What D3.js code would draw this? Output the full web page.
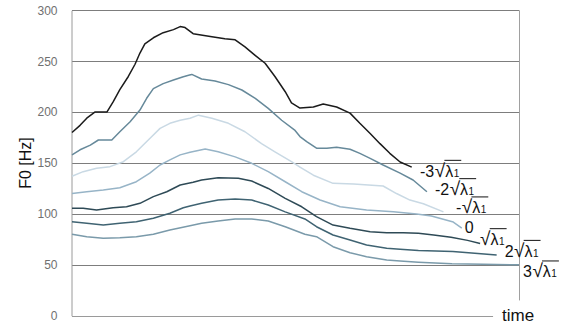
<!DOCTYPE html>
<html>
<head>
<meta charset="utf-8">
<script src="https://cdn.jsdelivr.net/npm/d3@7"></script>
<style>
  html, body { margin: 0; padding: 0; background: #fff; }
  svg { display: block; }
  text { font-family: "Liberation Sans", Arial, sans-serif; }
</style>
</head>
<body>
<svg id="chart" width="564" height="328"></svg>
<script>
// ---- data (time in normalized frames 0..100, F0 in Hz) ----
const yTicks = [0, 50, 100, 150, 200, 250, 300];
const seriesNames = ["-3", "-2", "-1", "0", "1", "2", "3"];

const m3_t = [0,1.8,3.3,5.1,7.8,9.2,10.7,12.6,14.1,15.2,16.3,18.2,20.4,22.7,24.2,25.3,27.1,31.3,34.2,36.5,38.7,40.9,43.2,45.4,47.7,49.1,51,54,56.2,59.2,62.2,64.4,66.7,68.9,71.1,73.4,76];
const m3_v = [180,187,194,200,200,210,222,235,247,258,267,273,278,281,284,283,277,274,272,271,264,256,248,235,220,209,204,205,208,205,199,189,179,169,159.5,151,146];

const m2_t = [0,1.8,4.1,5.9,8.9,10.7,13,15.2,16.7,18.2,20.4,22.7,24.9,26.3,26.8,29,32,35,38,41,43.9,46.9,49.9,51,52.5,54.7,57,59.2,62.2,64.4,66.7,69.6,73.4,76.3,79.4];
const m2_v = [158,163,167.6,172.6,172.6,180.7,190.6,202,213.6,223,228,231.5,234.8,236.4,237,232.5,230.5,227,221.7,213.5,203.7,192,182,176,171,164.5,164.5,165.4,163.5,159.5,154.6,148,140,133.3,121.8];

const m1_t = [0,2.5,5.5,8.5,11.5,14.4,17.4,19.7,21.9,24.2,26.4,28.3,31.3,35,38.7,42.4,45.4,49.1,51,54,58.4,63,69.6,72.6,75.6,78.6,83.1];
const m1_v = [137,141.5,144.8,146.4,151.3,161,174,184,189,192,194,197,194,189,180.7,169,161,151.3,146,138,130,129.4,127.4,120,113.6,110,102];

const z_t = [0,3.3,7,10.7,14.4,17.4,19.7,21.9,24.2,26.4,29.8,32.7,36.5,40.2,43.9,47.7,51.4,55.5,60,65.9,71.9,77.1,80.4,85.3,87.2];
const z_v = [120,121.8,123.5,125.7,131.6,140,148,153,158,160.5,163.7,161,156,149.7,141.5,131.6,121.8,113.6,107,103.8,102,100,98,92,86];

const p1_t = [0,2.5,5.5,9.2,12.2,15.2,18.2,21.2,24.2,27.1,29,32.7,37.2,40.2,43.9,47.7,51.4,54.7,58.4,62.2,66.7,70.4,74.1,77.5,80.9,84.8,88.5,91.3];
const p1_v = [105.5,105.5,103.8,106,107,110.4,117,121.8,128.4,131,133.3,135.6,135,132.3,125,115.3,107,97.3,89,85.8,82.5,81.5,81.5,81,79.3,77,74,71];

const p2_t = [0,3.3,7,10.7,14.4,18.2,21.9,24.9,26.4,29,32.7,36.5,40.2,43.9,47.7,52.1,54.7,58.4,62.2,65.9,70.4,73.4,77.5,85.2,95];
const p2_v = [92.3,90.8,89,90.8,92.3,95.7,100.6,106,107.8,110.4,113.6,114.6,113.6,108.7,102,95,87.4,79.3,74.4,69.4,66.2,65.2,64,63,59.6];

const p3_t = [0,3.3,7,10.7,14.4,18.2,21.9,26.4,29,32.7,36.5,40.2,43.9,47.7,52.1,54.7,58.4,62.2,65.9,70.4,73.4,77.5,85,92,100];
const p3_v = [80,77.6,76,76.6,77.6,80,84.2,88.4,90.8,93,95,95,93,87.4,80,77.6,67.8,61.9,58,54.7,53.7,52.5,51,50.5,50];

const seriesT = [m3_t, m2_t, m1_t, z_t, p1_t, p2_t, p3_t];
const seriesV = [m3_v, m2_v, m1_v, z_v, p1_v, p2_v, p3_v];

// label pieces: coefficient text, whether it has sqrt(lambda1)
const labelCoef = ["-3", "-2", "-", "0", "", "2", "3"];
const labelSqrt = [true, true, true, false, true, true, true];

// ---- styles ----
const colors = ["#1b1b1b", "#66899a", "#c9d9e4", "#97b4c7", "#2e4a56", "#3f6372", "#7a9aaa"];
const labelOffsets = [[8.3, 9.6], [8, 3.3], [12.5, 1.4], [3, 5.2], [-0.5, 1.6], [8, 1.7], [4, 12.5]];
const FS = 16, SQ_FS = 19;

const svg = d3.select("#chart");
const W = 564, H = 328;
const x = d3.scaleLinear().domain([0, 100]).range([72, 519]);
const y = d3.scaleLinear().domain([0, 300]).range([315.7, 10.3]);

svg.append("rect").attr("x", 0).attr("y", 0).attr("width", W).attr("height", H).attr("fill", "#ffffff");

// grid lines (50..250) + top border at 300
svg.append("g").selectAll("line")
  .data(yTicks.filter(d => d > 0))
  .join("line")
  .attr("x1", x(0)).attr("x2", x(100))
  .attr("y1", d => Math.round(y(d)) + 0.5).attr("y2", d => Math.round(y(d)) + 0.5)
  .attr("stroke", "#7d7d7d").attr("stroke-width", 1);

// right border
svg.append("line")
  .attr("x1", Math.round(x(100)) + 0.5).attr("x2", Math.round(x(100)) + 0.5)
  .attr("y1", y(300)).attr("y2", y(15))
  .attr("stroke", "#a0a0a0").attr("stroke-width", 1);

// y axis
const yAxis = d3.axisLeft(y).tickValues(yTicks).tickSize(0).tickPadding(14);
const gy = svg.append("g").attr("transform", "translate(" + (x(0) - 0.5) + ",0)").call(yAxis);
gy.select(".domain").attr("stroke", "#9a9a9a");
gy.selectAll("text")
  .attr("fill", "#707070")
  .style("font-size", "12px")
  .style("font-family", '"Liberation Sans", Arial, sans-serif');

// x axis line (no ticks)
const xAxisEnd = 94.2;
svg.append("line")
  .attr("x1", x(0)).attr("x2", x(xAxisEnd))
  .attr("y1", Math.round(y(0)) + 0.5).attr("y2", Math.round(y(0)) + 0.5)
  .attr("stroke", "#9a9a9a").attr("stroke-width", 1);

svg.append("text")
  .attr("x", x(xAxisEnd) + 9).attr("y", y(0) + 5)
  .attr("fill", "#111").style("font-size", "17px")
  .text("time");

svg.append("text")
  .attr("transform", "translate(31," + y(150) + ") rotate(-90)")
  .attr("text-anchor", "middle")
  .attr("fill", "#111").style("font-size", "16px")
  .text("F0 [Hz]");

// lines
const line = d3.line().x(d => x(d[0])).y(d => y(d[1])).curve(d3.curveLinear);
const series = seriesNames.map((name, i) => ({
  name, color: colors[i],
  pts: seriesT[i].map((t, j) => [t, seriesV[i][j]])
}));

svg.append("g").selectAll("path")
  .data(series)
  .join("path")
  .attr("d", d => line(d.pts))
  .attr("fill", "none")
  .attr("stroke", d => d.color)
  .attr("stroke-width", 1.5)
  .attr("stroke-linejoin", "round");

// labels (one text element per label, with tspans)
const lg = svg.append("g");
series.forEach((s, i) => {
  const last = s.pts[s.pts.length - 1];
  const lx = x(last[0]) + labelOffsets[i][0];
  const ly = y(last[1]) + labelOffsets[i][1];
  const t = lg.append("text").attr("x", lx).attr("y", ly)
    .attr("fill", "#111").style("font-size", FS + "px");
  if (labelCoef[i]) t.append("tspan").text(labelCoef[i]);
  if (labelSqrt[i]) {
    t.append("tspan").attr("dx", 0.5).style("font-size", SQ_FS + "px").text("\u221A");
    t.append("tspan").text("\u03BB");
    t.append("tspan").attr("dx", 0.5).style("font-size", "10px").text("1");
    const node = t.node();
    const n = node.getNumberOfChars();
    const sqIdx = labelCoef[i].length;
    const sqStart = node.getStartPositionOfChar(sqIdx);
    const sqEndX = sqStart.x + node.getSubStringLength(sqIdx, 1);
    const lastStart = node.getStartPositionOfChar(n - 1);
    const endX = lastStart.x + node.getSubStringLength(n - 1, 1);
    lg.append("line")
      .attr("x1", sqEndX - 0.8).attr("x2", endX + 2)
      .attr("y1", ly - SQ_FS * 0.86).attr("y2", ly - SQ_FS * 0.86)
      .attr("stroke", "#111").attr("stroke-width", 1);
  }
});
</script>
</body>
</html>
